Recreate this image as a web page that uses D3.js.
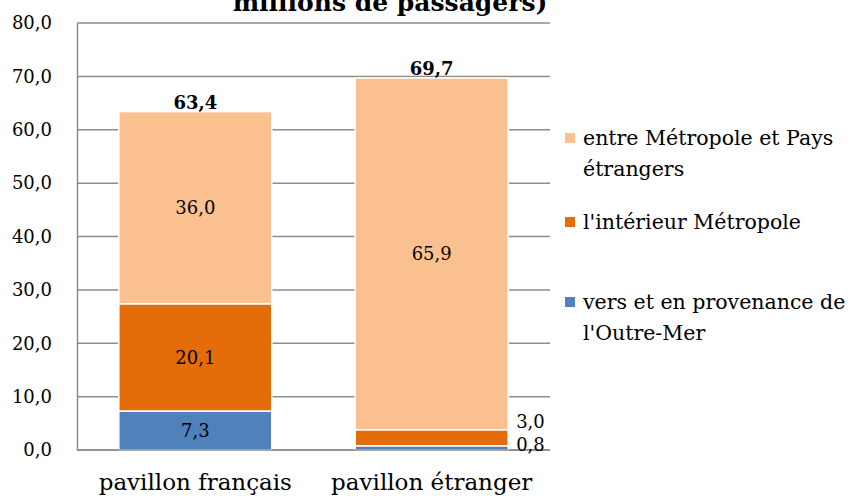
<!DOCTYPE html>
<html>
<head>
<meta charset="utf-8">
<script src="https://cdn.jsdelivr.net/npm/d3@7"></script>
<style>
  body { margin: 0; background: #fff; }
  svg text { font-family: 'Palatino Linotype', 'Book Antiqua', Palatino, 'DejaVu Serif', serif; }
</style>
</head>
<body>
<div id="chart"></div>
<script>
// data
let categories = ['pavillon français', 'pavillon étranger'];
let series = ['vers et en provenance de l\'Outre-Mer', 'l\'intérieur Métropole', 'entre Métropole et Pays étrangers'];
let outreMer = [7.3, 0.8];
let interieur = [20.1, 3.0];
let etrangers = [36.0, 65.9];
let totals = [63.4, 69.7];
let yTicks = [0, 10, 20, 30, 40, 50, 60, 70, 80];
let legendLines = [
    ['entre Métropole et Pays', 'étrangers'],
    ['l\'intérieur Métropole'],
    ['vers et en provenance de', 'l\'Outre-Mer']
];
let colors = ['#4F81BD', '#E46C0A', '#FAC090'];

function draw_chart() {
    let svgWidth = 850, svgHeight = 497;
    let padding = { left: 77, right: 300, top: 23, bottom: 47 };
    let fmt = v => v.toFixed(1).replace('.', ',');

    let svg = d3.select('#chart').append('svg')
        .attr('width', svgWidth)
        .attr('height', svgHeight);

    let x = d3.scaleBand()
        .domain(categories)
        .range([padding.left, svgWidth - padding.right])
        .paddingInner(0.353)
        .paddingOuter(0.177);
    let y = d3.scaleLinear()
        .domain([0, 80])
        .range([svgHeight - padding.bottom, padding.top]);

    // title (second line, first is cut off)
    svg.append('text')
        .attr('x', 390)
        .attr('y', 11)
        .attr('text-anchor', 'middle')
        .attr('font-weight', 'bold')
        .attr('font-size', '25px')
        .text('millions de passagers)');

    // gridlines
    svg.append('g')
        .selectAll('line')
        .data(yTicks)
        .enter()
        .append('line')
        .attr('x1', padding.left)
        .attr('x2', 550)
        .attr('y1', d => y(d))
        .attr('y2', d => y(d))
        .attr('stroke', '#8C8C8C')
        .attr('stroke-width', 1.5);

    // y axis
    let axis_y = d3.axisLeft(y)
        .tickValues(yTicks)
        .tickSize(0)
        .tickPadding(25)
        .tickFormat(fmt);
    let gy = svg.append('g')
        .attr('transform', `translate(${padding.left}, 0)`)
        .call(axis_y);
    gy.select('.domain').attr('stroke', '#8C8C8C').attr('stroke-width', 1.5);
    gy.selectAll('text').attr('font-size', '18px').attr('fill', '#000')
        .style('font-family', "'DejaVu Serif', serif");

    // stacked bars
    let stackRows = categories.map((c, i) => ({ cat: c, s0: outreMer[i], s1: interieur[i], s2: etrangers[i] }));
    let stack = d3.stack().keys(['s0', 's1', 's2'])(stackRows);

    stack.forEach((layer, li) => {
        svg.append('g')
            .selectAll('rect')
            .data(layer)
            .enter()
            .append('rect')
            .attr('x', d => x(d.data.cat))
            .attr('y', d => y(d[1]))
            .attr('width', x.bandwidth())
            .attr('height', d => y(d[0]) - y(d[1]))
            .attr('fill', colors[li])
            .attr('stroke', '#fff')
            .attr('stroke-width', 1.5);
    });

    // bottom axis line over bars
    svg.append('line')
        .attr('x1', padding.left).attr('x2', 550)
        .attr('y1', y(0)).attr('y2', y(0))
        .attr('stroke', '#8C8C8C').attr('stroke-width', 1.5);

    // value labels
    stack.forEach((layer, li) => {
        layer.forEach((d, i) => {
            let v = d[1] - d[0];
            let inside = v > 5;
            let t = svg.append('text')
                .attr('font-size', '18px')
                .attr('dy', '0.35em')
                .text(fmt(v));
            if (inside) {
                t.attr('x', x(d.data.cat) + x.bandwidth() / 2)
                    .attr('y', y((d[0] + d[1]) / 2))
                    .attr('text-anchor', 'middle');
            } else {
                t.attr('x', x(d.data.cat) + x.bandwidth() + 8)
                    .attr('y', li == 0 ? y(0) - 5 : y(d[1]) - 8)
                    .attr('text-anchor', 'start');
            }
        });
    });

    // totals
    svg.append('g')
        .selectAll('text')
        .data(totals)
        .enter()
        .append('text')
        .attr('x', (d, i) => x(categories[i]) + x.bandwidth() / 2)
        .attr('y', d => y(d) - 3)
        .attr('text-anchor', 'middle')
        .attr('font-size', '18px')
        .attr('font-weight', 'bold')
        .text(d => fmt(d));

    // category labels
    svg.append('g')
        .selectAll('text')
        .data(categories)
        .enter()
        .append('text')
        .attr('x', d => x(d) + x.bandwidth() / 2)
        .attr('y', 490)
        .attr('text-anchor', 'middle')
        .attr('font-size', '23px')
        .text(d => d);

    // legend
    let legendY = [138, 222, 302];
    let order = [2, 1, 0];
    let lg = svg.append('g');
    legendLines.forEach((lines, i) => {
        lg.append('rect')
            .attr('x', 565)
            .attr('y', legendY[i] - 5)
            .attr('width', 10)
            .attr('height', 10)
            .attr('fill', colors[order[i]]);
        lines.forEach((l, j) => {
            lg.append('text')
                .attr('x', 583)
                .attr('y', legendY[i] + j * 31)
                .attr('dy', '0.35em')
                .attr('font-size', '20.5px')
                .text(l);
        });
    });
}

draw_chart();
</script>
</body>
</html>
